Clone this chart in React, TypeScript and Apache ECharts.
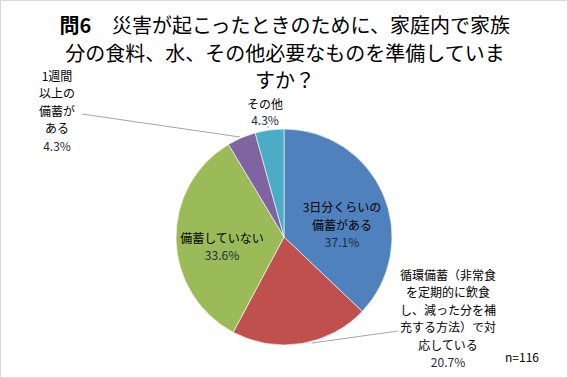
import React, { useEffect, useRef } from "react";
import * as echarts from "echarts";

const categories = [
  "3日分くらいの\n備蓄がある",
  "循環備蓄（非常食\nを定期的に飲食\nし、減った分を補\n充する方法）で対\n応している",
  "備蓄していない",
  "1週間\n以上の\n備蓄が\nある",
  "その他",
];
const values = [37.1, 20.7, 33.6, 4.3, 4.3];
const colors = ["#4F81BD", "#C0504D", "#9BBB59", "#8064A2", "#4BACC6"];
const titleLines = [
  "災害が起こったときのために、家庭内で家族",
  "分の食料、水、その他必要なものを準備していま",
  "すか？",
];
const sampleNote = "n=116";

// label anchor positions (px), line heights and leader lines
const labelPos: { x: number; y: number; lh: number; line?: number[][] }[] = [
  { x: 342, y: 224, lh: 17.5 },
  { x: 448, y: 318, lh: 17.5, line: [[312, 343], [398, 331]] },
  { x: 222, y: 246, lh: 17.5 },
  { x: 57, y: 110, lh: 17.5, line: [[240, 137], [82, 114]] },
  { x: 265, y: 111, lh: 16, line: [[268, 128], [268, 126]] },
];

export default function App() {
  const ref = useRef<HTMLDivElement>(null);
  useEffect(() => {
    document.body.style.margin = "0";
    const chart = echarts.init(ref.current!, null, { renderer: "svg" });
    const font = "'Noto Sans CJK JP', sans-serif";
    chart.setOption({
      animation: false,
      backgroundColor: "#ffffff",
      title: {
        text: "{b|問6}　" + titleLines.join("\n"),
        left: 285,
        top: 11,
        padding: 0,
        textAlign: "center",
        textStyle: {
          fontFamily: font,
          fontSize: 20,
          fontWeight: "normal",
          color: "#000",
          lineHeight: 27.5,
          rich: {
            b: { fontFamily: font, fontSize: 20, fontWeight: "bold", color: "#000", lineHeight: 27.5 },
          },
        },
      },
      graphic: [
        {
          type: "rect",
          shape: { x: 0.5, y: 0.5, width: 567, height: 377 },
          style: { fill: "none", stroke: "#D9D9D9", lineWidth: 1 },
          silent: true,
        },
        {
          type: "text",
          left: 505,
          top: 350,
          style: { text: sampleNote, fontFamily: font, fontSize: 12, fill: "#000" },
        },
      ],
      series: [
        {
          type: "pie",
          center: [284, 237],
          radius: 108,
          startAngle: 90,
          clockwise: true,
          avoidLabelOverlap: false,
          itemStyle: { borderColor: "#ffffff", borderWidth: 0.6 },
          data: categories.map((name, i) => ({
            name,
            value: values[i],
            itemStyle: { color: colors[i] },
            label: {
              position: i === 0 || i === 2 ? "inside" : "outside",
              lineHeight: labelPos[i].lh,
              rich: {
                p: { fontFamily: font, fontSize: 12, lineHeight: labelPos[i].lh, color: "#1F2A44" },
              },
            },
            labelLine: { show: !!labelPos[i].line },
          })),
          label: {
            fontFamily: font,
            fontSize: 12,
            lineHeight: 17.5,
            color: "#000",
            align: "center",
            formatter: (p: any) => `${p.name}\n{p|${p.value.toFixed(1)}%}`,
            rich: {
              p: { fontFamily: font, fontSize: 12, lineHeight: 17.5, color: "#1F2A44" },
            },
          },
          labelLine: {
            lineStyle: { color: "#A6A6A6", width: 1 },
            length: 10,
            length2: 10,
          },
          labelLayout: (params: any) => {
            const p = labelPos[params.dataIndex];
            const out: any = {
              x: p.x,
              y: p.y,
              align: "center",
              verticalAlign: "middle",
            };
            if (p.line) out.labelLinePoints = [p.line[0], p.line[1], p.line[1]];
            return out;
          },
        },
      ],
    });
    return () => chart.dispose();
  }, []);
  return <div ref={ref} style={{ width: 568, height: 378 }} />;
}
